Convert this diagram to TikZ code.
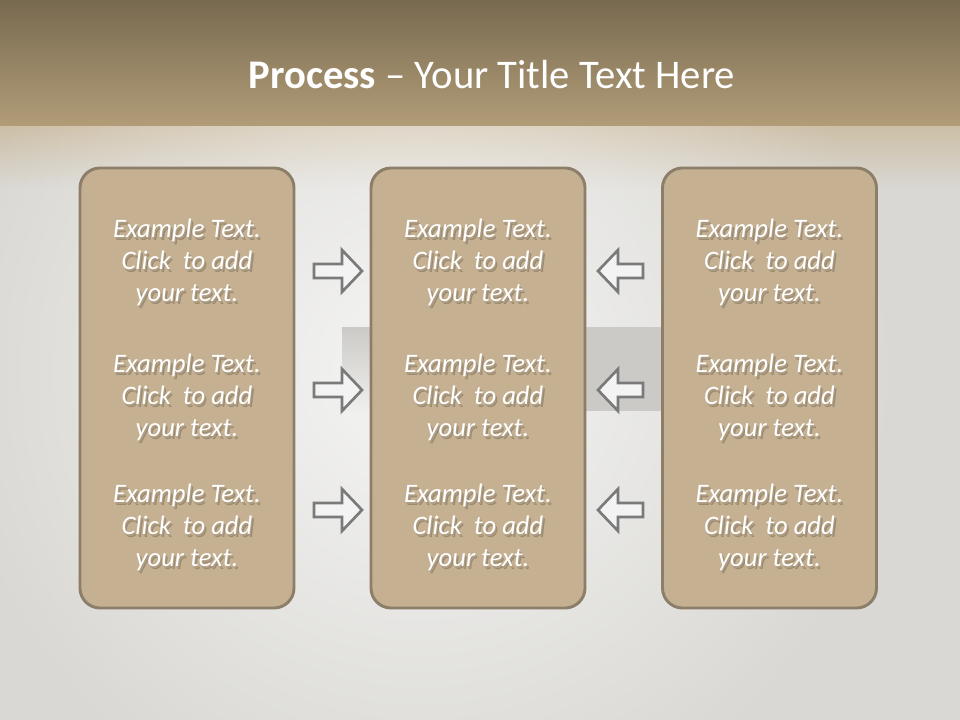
\documentclass[tikz,border=0pt]{standalone}
\usepackage{fontspec}
\setmainfont{Carlito}
\usetikzlibrary{fadings}

\definecolor{bandtop}{HTML}{786A50}
\definecolor{bandbot}{HTML}{B29D78}
\definecolor{slide}{HTML}{D9D8D4}
\definecolor{boxfill}{HTML}{C5B192}
\definecolor{boxline}{HTML}{8C7E69}
\definecolor{arrowline}{HTML}{7A7A7A}
\definecolor{arrowfill}{HTML}{F3F3F3}
\definecolor{stripe}{HTML}{CBCAC6}

\tikzfading[name=glow, inner color=transparent!0, outer color=transparent!100]

% white line with a soft shadow on the tan panel
\newcommand\shline[1]{\leavevmode\rlap{\kern1.6pt\raisebox{-2.2pt}{\color{boxfill!78!black}#1}}%
  \rlap{\kern0.8pt\raisebox{-1.1pt}{\color{boxfill!88!black}#1}}#1}

\tikzset{
  panel/.style={draw=boxline, line width=2.2pt, fill=boxfill, rounded corners=15pt,
    minimum width=160.5pt, minimum height=330pt, inner sep=0pt},
  blocktext/.style={align=center, text=white, font=\fontsize{20}{24}\selectfont\itshape},
  arrowbox/.style={draw=arrowline, line width=2pt, fill=arrowfill, line join=miter},
}

\begin{document}
\begin{tikzpicture}[x=0.75pt,y=-0.75pt]
  \useasboundingbox (0,0) rectangle (960,720);
  % slide background
  \fill[slide] (0,0) rectangle (960,720);
  \shade[top color=bandtop, bottom color=bandbot] (0,0) rectangle (960,127);
  \shade[top color=bandbot!65!white, bottom color=slide] (0,127) rectangle (960,190);
  \begin{scope}
    \clip (0,127) rectangle (960,720);
    \fill[white, opacity=0.75, path fading=glow] (420,370) circle (360pt);
  \end{scope}
  % grey strip behind the middle column
  \shade[top color=stripe, bottom color=slide!40!white] (342,327) rectangle (371,411);
  \fill[stripe] (371,327) rectangle (662,411);

  \node[font=\fontsize{30.5}{36}\selectfont, text=white, anchor=base] (title) at (492,89)
    {\textbf{Process} -- Your Title Text Here};

  \foreach \x/\n in {187/l,478/m,769.5/r} {
    \node[panel] (\n panel) at (\x,388) {};
    \foreach \y/\k in {264/1,399/2,529/3} {
      \node[blocktext] (\n\k) at (\x,\y)
        {\shline{Example Text.}\\\shline{Click\ \ to add}\\\shline{your text.}};
    }
  }

  % block arrows pointing into the middle column
  \foreach \y in {271,390,510} {
    \draw[arrowbox] (314,\y-7) -- (342,\y-7) -- (342,\y-21) -- (362,\y)
      -- (342,\y+21) -- (342,\y+7) -- (314,\y+7) -- cycle;
    \draw[arrowbox] (643,\y-7) -- (618,\y-7) -- (618,\y-21) -- (598,\y)
      -- (618,\y+21) -- (618,\y+7) -- (643,\y+7) -- cycle;
  }
\end{tikzpicture}
\end{document}
